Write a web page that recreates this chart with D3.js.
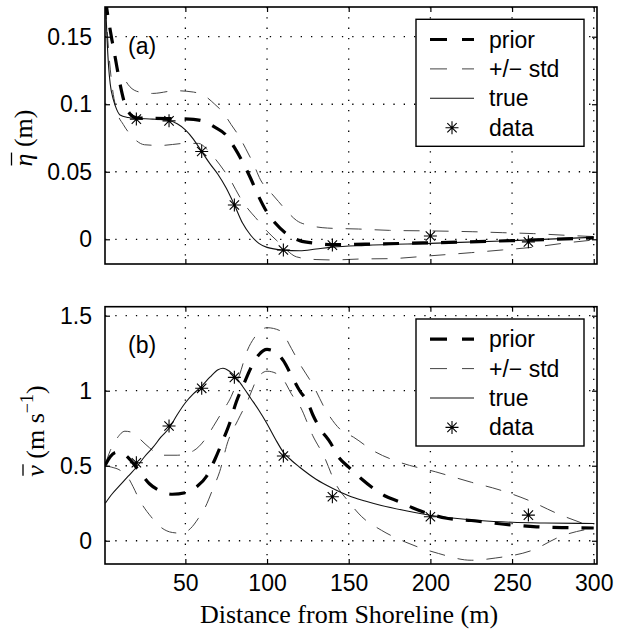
<!DOCTYPE html>
<html>
<head>
<meta charset="utf-8">
<script src="https://cdn.jsdelivr.net/npm/d3@7"></script>
<style>
  body { margin: 0; background: #fff; }
  svg { display: block; }
</style>
</head>
<body>
<script>
// ticks
var xTicks = [50, 100, 150, 200, 250, 300];
var etaTicks = [0, 0.05, 0.1, 0.15];
var vTicks = [0, 0.5, 1, 1.5];

// measurement stations
var dataX = [20, 40, 60, 80, 110, 140, 200, 260];
var etaData = [0.089, 0.0877, 0.065, 0.0254, -0.0079, -0.0043, 0.0024, -0.0019];
var vData = [0.52, 0.765, 1.016, 1.089, 0.565, 0.293, 0.16, 0.171];

// (a) setup  [x, eta]
var etaTrue = [[1,0.18],[2,0.15],[3,0.128],[4,0.115],[6,0.103],[8,0.096],[10,0.092],[15,0.0902],[20,0.0895],
  [30,0.089],[40,0.088],[45,0.0855],[50,0.081],[55,0.074],[60,0.065],[65,0.056],[70,0.048],[75,0.038],
  [80,0.0255],[85,0.012],[90,0.003],[95,-0.003],[100,-0.006],[110,-0.008],[120,-0.0085],[130,-0.0072],
  [140,-0.0058],[160,-0.0045],[200,-0.003],[250,-0.001],[300,0.0015]];
var etaPrior = [[1,0.178],[3,0.162],[5,0.148],[7,0.135],[10,0.115],[13,0.1],[16,0.093],[20,0.09],[30,0.0895],
  [45,0.0893],[55,0.0888],[62,0.087],[68,0.083],[75,0.077],[80,0.068],[86,0.055],[90,0.045],[94,0.034],
  [100,0.02],[105,0.012],[112,0.004],[120,-0.001],[130,-0.003],[140,-0.004],[160,-0.0036],[200,-0.0026],
  [250,-0.001],[300,0.001]];
var etaUpper = [[1,0.178],[3,0.16],[5,0.145],[8,0.128],[12,0.12],[16,0.113],[22,0.109],[30,0.108],[44,0.11],
  [55,0.109],[62,0.106],[68,0.1],[73,0.094],[78,0.085],[83,0.076],[87,0.067],[92,0.055],[96,0.044],
  [102,0.035],[107,0.028],[112,0.021],[118,0.014],[127,0.01],[137,0.0083],[156,0.0076],[175,0.0066],
  [200,0.0062],[226,0.0056],[244,0.0049],[263,0.0042],[282,0.003],[300,0.002]];
var etaLower = [[1,0.175],[3,0.14],[5,0.115],[8,0.095],[12,0.085],[16,0.078],[20,0.073],[25,0.07],[35,0.0695],
  [50,0.071],[58,0.071],[63,0.067],[68,0.06],[73,0.052],[78,0.043],[83,0.032],[88,0.023],[93,0.016],
  [100,0.006],[106,-0.001],[112,-0.008],[118,-0.013],[130,-0.015],[140,-0.0153],[157,-0.0146],
  [176,-0.0143],[199,-0.0123],[225,-0.0099],[244,-0.0079],[262,-0.006],[281,-0.003],[300,-0.0005]];

// (b) longshore current  [x, v]
var vTrue = [[1,0.25],[5,0.31],[10,0.37],[15,0.43],[20,0.49],[25,0.56],[30,0.62],[35,0.69],[40,0.75],
  [45,0.84],[50,0.92],[55,0.98],[60,1.03],[65,1.09],[70,1.14],[73,1.15],[77,1.13],[80,1.1],[85,1.03],
  [90,0.95],[95,0.87],[100,0.78],[105,0.68],[110,0.59],[115,0.535],[120,0.49],[130,0.41],[140,0.35],
  [150,0.3],[160,0.265],[170,0.235],[185,0.2],[200,0.17],[215,0.15],[230,0.135],[250,0.123],
  [270,0.118],[300,0.115]];
var vPrior = [[1,0.505],[4,0.56],[8,0.59],[12,0.58],[17,0.53],[22,0.46],[28,0.38],[35,0.33],[42,0.31],
  [50,0.32],[57,0.36],[63,0.43],[68,0.54],[73,0.67],[77,0.78],[81,0.92],[86,1.05],[90,1.15],[95,1.24],
  [100,1.275],[105,1.26],[110,1.2],[115,1.1],[120,1.0],[125,0.92],[128,0.84],[133,0.74],[139,0.65],
  [143,0.57],[150,0.49],[157,0.42],[165,0.35],[172,0.3],[181,0.26],[189,0.22],[199,0.18],[210,0.15],
  [225,0.135],[245,0.11],[265,0.093],[285,0.087],[300,0.085]];
var vUpper = [[1,0.51],[4,0.6],[8,0.68],[13,0.73],[18,0.72],[22,0.68],[28,0.62],[35,0.57],[45,0.57],
  [55,0.6],[63,0.69],[67,0.76],[72,0.85],[78,0.96],[83,1.1],[88,1.27],[92,1.35],[100,1.42],[108,1.4],
  [115,1.28],[120,1.18],[128,1.04],[136,0.87],[145,0.74],[153,0.69],[165,0.6],[182,0.52],[203,0.46],
  [225,0.39],[242,0.34],[260,0.27],[278,0.18],[300,0.09]];
var vLower = [[1,0.5],[5,0.49],[10,0.47],[15,0.42],[18,0.36],[22,0.27],[29,0.16],[35,0.09],[42,0.055],
  [48,0.05],[53,0.08],[58,0.15],[62,0.22],[67,0.35],[71,0.46],[76,0.66],[82,0.8],[88,0.93],[94,1.08],
  [100,1.13],[108,1.1],[116,0.96],[120,0.9],[128,0.7],[135,0.56],[142,0.38],[150,0.26],[158,0.16],
  [170,0.07],[185,-0.01],[205,-0.085],[225,-0.13],[240,-0.115],[262,-0.065],[280,0.03],[300,0.085]];

var legendLabels = ["prior", "+/\u2212 std", "true", "data"];

var width = 618, height = 634;
var left = 105, right = 597;
var sans = "'Liberation Sans', Arial, Helvetica, sans-serif";
var serif = "'Liberation Serif', 'Times New Roman', serif";

var svg = d3.select("body").append("svg")
    .attr("width", width)
    .attr("height", height);

var x = d3.scaleLinear().domain([0.8, 302]).range([left, right]);

function starPath(r) {
  var a = r * 0.72;
  return "M0," + (-r) + "L0," + r + "M" + (-r) + ",0L" + r + ",0" +
    "M" + (-a) + "," + (-a) + "L" + a + "," + a + "M" + (-a) + "," + a + "L" + a + "," + (-a);
}

var styles = {
  prior: {stroke: "#000", width: 3.2, dash: "16,13"},
  std: {stroke: "#444", width: 1, dash: "16,13"},
  truth: {stroke: "#111", width: 1.1, dash: null}
};

function drawPanel(o) {
  var y = d3.scaleLinear().domain(o.domain).range([o.bottom, o.top]);
  var g = svg.append("g");

  var clipId = "clip" + o.id;
  svg.append("clipPath").attr("id", clipId)
    .append("rect")
    .attr("x", left).attr("y", o.top)
    .attr("width", right - left).attr("height", o.bottom - o.top);

  // dotted grid
  g.append("g").selectAll("line").data(xTicks).enter().append("line")
    .attr("x1", function (d) { return x(d); }).attr("x2", function (d) { return x(d); })
    .attr("y1", o.top).attr("y2", o.bottom)
    .attr("stroke", "#000").attr("stroke-width", 1.3).attr("stroke-dasharray", "1.3,9");
  g.append("g").selectAll("line").data(o.ticks).enter().append("line")
    .attr("x1", left).attr("x2", right)
    .attr("y1", function (d) { return y(d); }).attr("y2", function (d) { return y(d); })
    .attr("stroke", "#000").attr("stroke-width", 1.3).attr("stroke-dasharray", "1.3,9");

  // curves
  var line = d3.line()
    .x(function (d) { return x(d[0]); })
    .y(function (d) { return y(d[1]); })
    .curve(d3.curveMonotoneX);

  var plot = g.append("g").attr("clip-path", "url(#" + clipId + ")");
  [[o.lower, styles.std], [o.upper, styles.std], [o.truth, styles.truth], [o.prior, styles.prior]]
    .forEach(function (s) {
      plot.append("path")
        .attr("d", line(s[0]))
        .attr("fill", "none")
        .attr("stroke", s[1].stroke)
        .attr("stroke-width", s[1].width)
        .attr("stroke-dasharray", s[1].dash);
    });

  plot.selectAll(".star").data(dataX).enter().append("path")
    .attr("class", "star")
    .attr("transform", function (d, i) { return "translate(" + x(d) + "," + y(o.data[i]) + ")"; })
    .attr("d", starPath(6.5))
    .attr("fill", "none").attr("stroke", "#000").attr("stroke-width", 1.1);

  // axes with inward ticks
  var yAxis = d3.axisLeft(y).tickValues(o.ticks).tickSize(-5).tickPadding(13)
    .tickFormat(function (d) { return String(d); });
  var ya = g.append("g").attr("transform", "translate(" + left + ",0)").call(yAxis);
  var yr = g.append("g").attr("transform", "translate(" + right + ",0)")
    .call(d3.axisRight(y).tickValues(o.ticks).tickSize(-5).tickFormat(""));
  var xAxis = d3.axisBottom(x).tickValues(xTicks).tickSize(-5).tickPadding(11)
    .tickFormat(o.xLabels ? function (d) { return d; } : "");
  var xa = g.append("g").attr("transform", "translate(0," + o.bottom + ")").call(xAxis);
  var xt = g.append("g").attr("transform", "translate(0," + o.top + ")")
    .call(d3.axisTop(x).tickValues(xTicks).tickSize(-5).tickFormat(""));
  [ya, yr, xa, xt].forEach(function (a) {
    a.select(".domain").remove();
    a.selectAll("line").attr("stroke", "#000").attr("stroke-width", 1.2);
    a.selectAll("text").attr("font-family", sans).attr("font-size", 23).attr("fill", "#000");
  });

  g.append("rect")
    .attr("x", left).attr("y", o.top)
    .attr("width", right - left).attr("height", o.bottom - o.top)
    .attr("fill", "none").attr("stroke", "#000").attr("stroke-width", 1.6);

  // panel tag
  g.append("text").attr("x", 128).attr("y", o.top + 46.5)
    .attr("font-family", sans).attr("font-size", 23).text(o.tag);

  // legend
  var lx = 416, ly = o.top + 12.3, lw = 168, lh = 127;
  var lg = g.append("g");
  lg.append("rect").attr("x", lx).attr("y", ly).attr("width", lw).attr("height", lh)
    .attr("fill", "#fff").attr("stroke", "#000").attr("stroke-width", 1.4);
  var rows = [20.2, 49.6, 79, 108.4];
  var sty = [styles.prior, styles.std, styles.truth];
  legendLabels.forEach(function (lab, i) {
    var ry = ly + rows[i];
    if (i < 3) {
      lg.append("line").attr("x1", 430).attr("x2", 474).attr("y1", ry).attr("y2", ry)
        .attr("stroke", sty[i].stroke).attr("stroke-width", sty[i].width)
        .attr("stroke-dasharray", sty[i].dash ? "17,15" : null);
    } else {
      lg.append("path").attr("transform", "translate(452," + ry + ")")
        .attr("d", starPath(6.5)).attr("fill", "none").attr("stroke", "#000").attr("stroke-width", 1.1);
    }
    lg.append("text").attr("x", 489).attr("y", ry + 8)
      .attr("font-family", sans).attr("font-size", 23).text(lab);
  });

  return {g: g, y: y};
}

drawPanel({
  id: "a", top: 7, bottom: 264, domain: [-0.0183, 0.172], ticks: etaTicks,
  truth: etaTrue, prior: etaPrior, upper: etaUpper, lower: etaLower, data: etaData,
  tag: "(a)", xLabels: false
});
drawPanel({
  id: "b", top: 306.7, bottom: 564, domain: [-0.155, 1.56], ticks: vTicks,
  truth: vTrue, prior: vPrior, upper: vUpper, lower: vLower, data: vData,
  tag: "(b)", xLabels: true
});

// axis titles
svg.append("text")
  .attr("x", 349).attr("y", 623)
  .attr("text-anchor", "middle")
  .attr("font-family", serif).attr("font-size", 26)
  .text("Distance from Shoreline (m)");

function yTitle(cx, cy, sym, parts, barY) {
  var g = svg.append("g").attr("transform", "translate(" + cx + "," + cy + ") rotate(-90)");
  var t = g.append("text").attr("text-anchor", "middle")
    .attr("font-family", serif).attr("font-size", 26);
  t.append("tspan").attr("font-style", "italic").text(sym);
  parts.forEach(function (p) {
    var s = t.append("tspan").text(p.t);
    if (p.sup) s.attr("font-size", 18).attr("dy", -11);
    if (p.down) s.attr("dy", 11);
  });
  var box = t.node().getExtentOfChar(0);
  g.append("line")
    .attr("x1", box.x + 1).attr("x2", box.x + box.width + 1)
    .attr("y1", barY).attr("y2", barY)
    .attr("stroke", "#000").attr("stroke-width", 1.3);
}

yTitle(32, 138, "\u03b7", [{t: " (m)"}], -20.5);
yTitle(44, 431, "v", [{t: " (m s"}, {t: "\u22121", sup: true}, {t: ")", down: true}], -21);
</script>
</body>
</html>
